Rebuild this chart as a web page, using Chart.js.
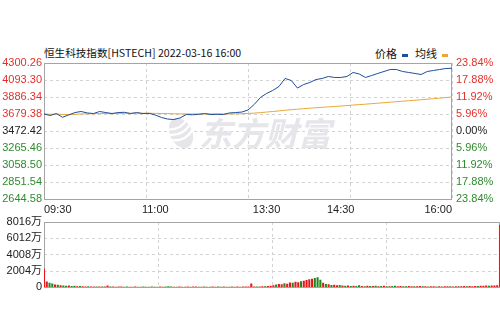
<!DOCTYPE html>
<html><head><meta charset="utf-8">
<script src="https://cdn.jsdelivr.net/npm/chart.js@4.4.1/dist/chart.umd.min.js"></script>
<style>
html,body{margin:0;padding:0;background:#fff;}
#wrap{position:relative;width:500px;height:333px;overflow:hidden;background:#fff;}
canvas{position:absolute;left:0;}
#title{position:absolute;left:44px;top:45px;font-size:10.6px;font-family:"Noto Sans CJK SC",sans-serif;color:#111;white-space:nowrap;line-height:16px;}
#legend{position:absolute;left:375px;top:45px;font-size:11px;font-family:"Noto Sans CJK SC",sans-serif;color:#111;white-space:nowrap;line-height:16px;}
.sw{display:inline-block;width:6px;height:3px;vertical-align:middle;margin:0 7px 0 5px;}
</style></head>
<body><div id="wrap">
<div id="title">恒生科技指数[HSTECH] 2022-03-16 16:00</div>
<div id="legend">价格<span class="sw" style="background:#1d4f9c"></span>均线<span class="sw" style="background:#e8a838"></span></div>
<canvas id="c1" width="500" height="232" style="top:0"></canvas>
<canvas id="c2" width="500" height="86" style="top:210px"></canvas>
</div>
<script>
// ---------- data ----------
const BASE = 3472.42;
const priceTicks = [4300.26,4093.30,3886.34,3679.38,3472.42,3265.46,3058.50,2851.54,2644.58];
const xTickLabels = ["09:30","11:00","13:30","14:30","16:00"];
const volTicks = [0,2004,4008,6012,8016];

const priceTimes = ["09:30","09:35","09:40","09:45","09:50","09:55","10:00","10:05","10:10","10:15",
"10:20","10:25","10:30","10:35","10:40","10:45","10:50","10:55","11:00","11:05","11:10","11:15",
"11:20","11:25","11:30","11:35","11:40","11:45","11:50","11:55","12:00",
"13:05","13:10","13:15","13:20","13:25","13:30","13:35","13:40","13:45","13:50","13:55","14:00",
"14:05","14:10","14:15","14:20","14:25","14:30","14:35","14:40","14:45","14:50","14:55","15:00",
"15:05","15:10","15:15","15:20","15:25","15:30","15:35","15:40","15:45","15:50","15:55","16:00"];

const price = [3680,3661,3685,3640,3668,3697,3710,3692,3685,3710,
3697,3685,3697,3700,3685,3697,3685,3688,3667,3637,
3618,3612,3631,3673,3670,3675,3685,3673,3676,3673,3692,
3697,3703,3728,3795,3880,3929,3966,4014,4112,4087,
3995,4038,4063,4099,4112,4136,4124,4124,4136,4185,
4166,4124,4148,4173,4197,4221,4221,4197,4185,4173,
4160,4197,4209,4221,4233,4236];

const avgLine = [3680,3676,3678,3674,3673,3675,3680,3682,3683,3685,
3686,3686,3687,3688,3688,3688,3688,3688,3687,3686,
3684,3682,3681,3680,3680,3680,3680,3680,3680,3680,3680,
3681,3683,3686,3690,3696,3703,3710,3717,3725,3732,
3738,3744,3750,3756,3761,3766,3771,3776,3782,3788,
3794,3799,3805,3811,3817,3823,3829,3835,3841,3847,
3853,3859,3866,3873,3880,3887];

// volume in 万, one bar per 2 minutes
const volumes = [2290,720,560,480,360,330,260,240,200,220,
170,190,150,160,130,120,140,110,100,120,
110,100,120,230,110,100,90,110,100,90,
100,80,90,100,80,90,100,90,80,110,
90,80,100,90,120,140,100,90,80,100,
90,80,100,90,110,100,80,90,100,90,
80,100,90,110,90,100,80,90,100,90,
100,90,110,100,120,480,
100,120,110,140,130,160,200,260,350,420,
380,520,450,600,560,700,640,760,820,900,
1000,1050,1150,1250,950,560,420,380,300,330,
260,300,240,200,220,180,200,160,250,180,
150,200,170,160,210,150,170,200,150,130,
170,200,140,160,150,130,160,140,150,130,
160,140,130,120,140,150,120,130,110,140,
130,150,120,140,130,150,160,140,170,150,
180,160,200,190,220,200,240,230,260,7640];
const volDir = [1,1,-1,-1,1,-1,1,-1,-1,1,
-1,-1,1,-1,1,1,-1,1,1,-1,
1,-1,1,1,-1,1,-1,1,1,-1,
-1,1,-1,1,-1,1,-1,1,-1,-1,
1,-1,1,-1,-1,-1,-1,1,-1,1,
-1,1,1,-1,1,1,-1,1,-1,1,
-1,1,1,-1,1,-1,1,1,-1,1,
1,-1,1,1,1,1,
1,-1,1,1,-1,1,1,1,-1,1,
1,-1,1,1,-1,1,1,-1,1,1,
1,1,-1,-1,-1,1,-1,1,-1,1,
1,-1,1,-1,1,-1,1,-1,-1,1,
-1,1,-1,1,-1,1,-1,1,-1,1,
-1,-1,1,1,-1,-1,1,1,-1,1,
1,-1,1,-1,1,1,-1,1,-1,1,
1,-1,1,1,-1,1,1,-1,1,1,
1,-1,1,1,1,-1,1,1,1,1];

// ---------- helpers ----------
function toMin(t){ const [h,m]=t.split(':').map(Number); let v=h*60+m-570; if(v>150) v-=60; return v; }
function buildTimes(a,b,step){ const out=[]; const [ah,am]=a.split(':').map(Number); const [bh,bm]=b.split(':').map(Number);
  for(let v=ah*60+am; v<=bh*60+bm; v+=step){ out.push(String(Math.floor(v/60)).padStart(2,'0')+':'+String(v%60).padStart(2,'0')); } return out; }
const volTimes = buildTimes('09:30','12:00',2).concat(buildTimes('13:02','16:00',2));
const SESSION = toMin('16:00');

const FONT = {family:'"Liberation Sans","Noto Sans CJK SC",Arial,sans-serif', size:11};
const RED='#e4312b', GREEN='#2e8b2e', BLACK='#222', GRID='#d2d2d2', FRAME='#a4a4a4';
function tickColor(v){ return v>BASE+0.001?RED:(v<BASE-0.001?GREEN:BLACK); }
const quarterTicks = s => { s.ticks=[0,1,2,3,4].map(k=>({value:SESSION*k/4})); };

const framePlugin = { id:'frame', beforeDatasetsDraw(chart){ const a=chart.chartArea, c=chart.ctx; c.save(); c.strokeStyle=FRAME; c.lineWidth=1;
  c.strokeRect(Math.round(a.left)+0.5, Math.round(a.top)+0.5, Math.round(a.right-a.left)-1, Math.round(a.bottom-a.top)); c.restore(); } };

const watermark = { id:'wm', beforeDatasetsDraw(chart){ const a=chart.chartArea, c=chart.ctx; c.save();
  c.fillStyle='#e6e6ea'; c.font='italic bold 33px "Noto Sans CJK SC"'; c.textBaseline='middle';
  c.fillText('东方财富', a.left+155, a.top+70);
  const cx=a.left+137, cy=a.top+70;
  c.translate(cx,cy); c.rotate(-0.45);
  c.beginPath(); c.ellipse(0,0,11,16,0,0,Math.PI*2); c.fill();
  c.strokeStyle='#fff'; c.lineWidth=2.2;
  for(const o of [-6,0,6]){ c.beginPath(); c.moveTo(-12,o-4); c.quadraticCurveTo(0,o+4,12,o-4); c.stroke(); }
  c.restore(); } };

// ---------- main chart ----------
new Chart(document.getElementById('c1'), {
  type:'line',
  data:{ datasets:[
    {label:'价格', data: priceTimes.map((t,i)=>({x:toMin(t), y:price[i]})), borderColor:'#1d4f9c', borderWidth:1, pointRadius:0, tension:0, order:1, xAxisID:'x', yAxisID:'y'},
    {label:'均线', data: priceTimes.map((t,i)=>({x:toMin(t), y:avgLine[i]})), borderColor:'#e8a838', borderWidth:1, pointRadius:0, tension:0, order:2, xAxisID:'x', yAxisID:'y'}
  ]},
  options:{
    responsive:false, animation:false, events:[],
    layout:{padding:{top:63,left:0,right:0,bottom:0}},
    plugins:{legend:{display:false}, tooltip:{enabled:false}},
    scales:{
      x:{type:'linear', min:0, max:SESSION, position:'bottom', weight:1,
        afterBuildTicks: s=>{ s.ticks = xTickLabels.map(t=>({value:toMin(t)})); },
        afterFit: s=>{ s.height=33; },
        grid:{display:false, drawTicks:false}, border:{display:false},
        ticks:{autoSkip:false, maxRotation:0, align:'inner', padding:4, color:'#222', font:FONT,
          callback:(v)=>{ const i=xTickLabels.findIndex(t=>toMin(t)===v); return i>=0?xTickLabels[i]:''; }}},
      xg:{type:'linear', min:0, max:SESSION, position:'bottom', weight:0,
        afterBuildTicks: quarterTicks, afterFit: s=>{ s.height=0; },
        ticks:{display:false}, grid:{color:GRID, drawTicks:false}, border:{display:false, dash:[3,3]}},
      y:{type:'linear', position:'left', min:priceTicks[priceTicks.length-1], max:priceTicks[0],
        afterBuildTicks: s=>{ s.ticks = priceTicks.map(v=>({value:v})); },
        afterFit: s=>{ s.width=44; },
        grid:{color:GRID, drawTicks:false}, border:{display:false, dash:[3,3]},
        ticks:{autoSkip:false, padding:2, font:FONT, color:c=>tickColor(c.tick.value), callback:v=>Number(v).toFixed(2)}},
      yR:{type:'linear', position:'right', min:priceTicks[priceTicks.length-1], max:priceTicks[0],
        afterBuildTicks: s=>{ s.ticks = priceTicks.map(v=>({value:v})); },
        afterFit: s=>{ s.width=48; },
        grid:{display:false, drawTicks:false}, border:{display:false},
        ticks:{autoSkip:false, padding:4, font:FONT, color:c=>tickColor(c.tick.value),
          callback:v=>Math.abs((v-BASE)/BASE*100).toFixed(2)+'%'}}
    }
  },
  plugins:[framePlugin, watermark]
});

// ---------- volume chart ----------
const upData=[], downData=[];
volTimes.forEach((t,i)=>{ const p={x:toMin(t), y:volumes[i]}; (volDir[i]>0?upData:downData).push(p); });

new Chart(document.getElementById('c2'), {
  type:'bar',
  data:{ datasets:[
    {data:upData, backgroundColor:'#e8161b', grouped:false, barPercentage:0.75, categoryPercentage:1},
    {data:downData, backgroundColor:'#1f8a1f', grouped:false, barPercentage:0.75, categoryPercentage:1}
  ]},
  options:{
    responsive:false, animation:false, events:[],
    layout:{padding:{top:12,left:0,right:0,bottom:4}},
    plugins:{legend:{display:false}, tooltip:{enabled:false}},
    scales:{
      x:{type:'linear', min:0, max:SESSION, offset:false, afterBuildTicks: quarterTicks, afterFit: s=>{ s.height=0; },
        ticks:{display:false}, grid:{color:GRID, drawTicks:false, offset:false}, border:{display:false, dash:[3,3]}},
      y:{type:'linear', min:0, max:volTicks[volTicks.length-1],
        afterBuildTicks: s=>{ s.ticks = volTicks.map(v=>({value:v})); },
        afterFit: s=>{ s.width=44; },
        grid:{color:GRID, drawTicks:false}, border:{display:false, dash:[3,3]},
        ticks:{autoSkip:false, padding:2, font:FONT, color:'#222', callback:v=>v===0?'0':v+'万'}}
    }
  },
  plugins:[framePlugin]
});
</script>
</body></html>
